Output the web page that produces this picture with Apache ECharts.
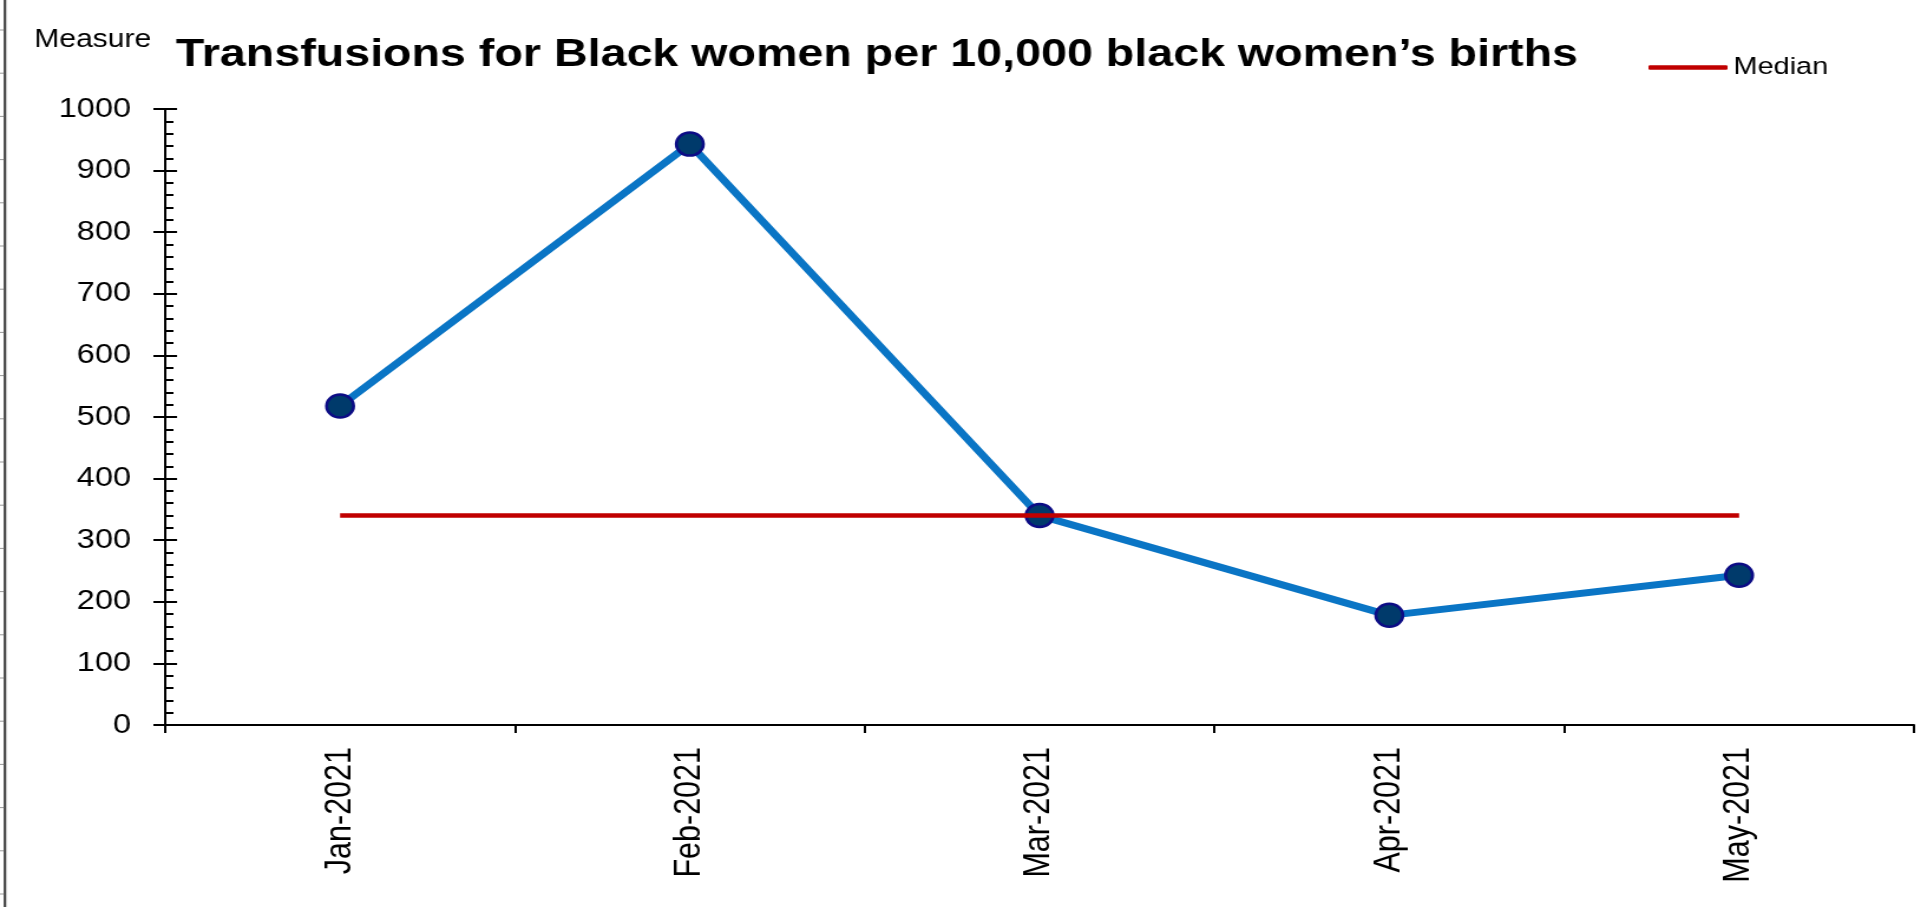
<!DOCTYPE html>
<html>
<head>
<meta charset="utf-8">
<title>Transfusions for Black women</title>
<script src="https://cdn.jsdelivr.net/npm/echarts@6/dist/echarts.min.js"></script>
<style>
  html, body { margin: 0; padding: 0; background: #ffffff; overflow: hidden; }
  /* The chart is laid out on a narrower canvas and widened, giving the wide lettering of the slide */
  #chart { width: 1628px; height: 907px; transform: scaleX(1.18); transform-origin: 0 0; }
</style>
</head>
<body>
<div id="chart"></div>
<script>
// Monthly categories
const months = ['Jan-2021', 'Feb-2021', 'Mar-2021', 'Apr-2021', 'May-2021'];
// Transfusions per 10,000 births
const transfusions = [518, 943, 340, 178, 243];
// Median of the period, drawn across all months
const medianValues = [340, 340, 340, 340, 340];
// Value axis range
const yMin = 0;
const yMax = 1000;
const yStep = 100;

const FONT = "'Liberation Sans', Arial, sans-serif";

// Slide edge: a thin ruler down the left side
const edgeGraphics = [{
  type: 'line',
  shape: { x1: 4.2, y1: 0, x2: 4.2, y2: 907 },
  style: { stroke: '#444444', lineWidth: 2.2 }
}];
for (let i = 0; i <= 20; i++) {
  const y = 30 + i * 43.2;
  edgeGraphics.push({
    type: 'line',
    shape: { x1: 0, y1: y, x2: 3.2, y2: y },
    style: { stroke: '#999999', lineWidth: 1 }
  });
}

const valueAxisBase = {
  type: 'value',
  min: yMin,
  max: yMax,
  interval: yStep,
  position: 'left',
  splitLine: { show: false },
  axisLine: { show: true, lineStyle: { color: '#000000', width: 2 } }
};

const chart = echarts.init(document.getElementById('chart'));
chart.setOption({
  animation: false,
  backgroundColor: '#ffffff',
  title: [
    {
      text: 'Measure',
      left: 24,
      top: 22,
      textStyle: { fontFamily: FONT, fontSize: 25.5, fontWeight: 'normal', color: '#000000' }
    },
    {
      text: 'Transfusions for Black women per 10,000 black women\u2019s births',
      left: 144,
      top: 30,
      textStyle: { fontFamily: FONT, fontSize: 39.5, fontWeight: 'bold', color: '#000000' }
    }
  ],
  legend: {
    data: ['Median'],
    left: 1392,
    top: 50,
    icon: 'roundRect',
    itemWidth: 67,
    itemHeight: 4.5,
    itemGap: 10,
    textStyle: { fontFamily: FONT, fontSize: 24.5, color: '#000000' }
  },
  grid: { left: 140, right: 6, top: 109, bottom: 182, containLabel: false },
  xAxis: {
    type: 'category',
    data: months,
    boundaryGap: true,
    axisLine: { show: true, lineStyle: { color: '#000000', width: 2 } },
    axisTick: { show: true, length: 8, lineStyle: { color: '#000000', width: 2 } },
    axisLabel: { rotate: 90, margin: 22, fontFamily: FONT, fontSize: 30.5, color: '#000000' },
    splitLine: { show: false }
  },
  yAxis: [
    Object.assign({}, valueAxisBase, {
      axisTick: { show: true, length: 10, lineStyle: { color: '#000000', width: 2 } },
      axisLabel: {
        show: true, margin: 29, fontFamily: FONT, fontSize: 27.5, color: '#000000',
        formatter: (v) => String(v)
      }
    }),
    Object.assign({}, valueAxisBase, {
      offset: 0,
      axisTick: { show: true, inside: true, length: 10, lineStyle: { color: '#000000', width: 2 } },
      minorTick: { show: true, splitNumber: 5, length: 7, lineStyle: { color: '#000000', width: 2 } },
      axisLabel: { show: false }
    })
  ],
  series: [
    {
      name: 'Transfusions',
      type: 'line',
      data: transfusions,
      symbol: 'circle',
      symbolSize: 23,
      lineStyle: { color: '#0A75C5', width: 7 },
      itemStyle: { color: '#003A6B', borderColor: '#0C0C85', borderWidth: 2.5 },
      z: 2
    },
    {
      name: 'Median',
      type: 'line',
      data: medianValues,
      symbol: 'none',
      lineStyle: { color: '#C00000', width: 4.5 },
      itemStyle: { color: '#C00000' },
      z: 3
    }
  ],
  graphic: edgeGraphics
});
</script>
</body>
</html>
